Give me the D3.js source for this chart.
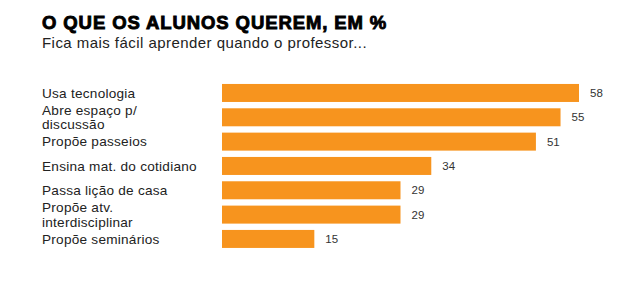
<!DOCTYPE html>
<html>
<head>
<meta charset="utf-8">
<script src="https://cdn.jsdelivr.net/npm/d3@7"></script>
<style>
body { margin: 0; background: #fff; }
text { font-family: "Liberation Sans", Arial, sans-serif; }
</style>
</head>
<body>
<svg id="chart" width="625" height="285"></svg>
<script>
const titleText = "O QUE OS ALUNOS QUEREM, EM %";
const subtitleText = "Fica mais fácil aprender quando o professor...";
const categories = [
  ["Usa tecnologia"],
  ["Abre espaço p/", "discussão"],
  ["Propõe passeios"],
  ["Ensina mat. do cotidiano"],
  ["Passa lição de casa"],
  ["Propõe atv.", "interdisciplinar"],
  ["Propõe seminários"]
];
const values = [58, 55, 51, 34, 29, 29, 15];

const svg = d3.select("#chart");
svg.append("rect").attr("width", 625).attr("height", 285).attr("fill", "#fff");

svg.append("text").attr("x", 42).attr("y", 29)
  .attr("font-size", 18.5).attr("font-weight", "bold").attr("fill", "#000")
  .attr("stroke", "#000").attr("stroke-width", 0.9)
  .attr("letter-spacing", 0.9)
  .text(titleText);
svg.append("text").attr("x", 42).attr("y", 48)
  .attr("font-size", 15).attr("fill", "#222")
  .attr("letter-spacing", 0.45)
  .text(subtitleText);

const idx = d3.range(values.length);
const x = d3.scaleLinear().domain([0, 58]).range([222, 579]);
const y = d3.scaleBand().domain(idx).range([80.8, 251.1]).paddingInner(0.26).paddingOuter(0.13);

svg.selectAll("rect.bar").data(idx).enter().append("rect")
  .attr("class", "bar")
  .attr("x", x(0))
  .attr("y", i => y(i))
  .attr("width", i => x(values[i]) - x(0))
  .attr("height", y.bandwidth())
  .attr("fill", "#F7941E");

svg.selectAll("text.val").data(idx).enter().append("text")
  .attr("class", "val")
  .attr("x", i => x(values[i]) + 11)
  .attr("y", i => y(i) + y.bandwidth() / 2 + 4)
  .attr("font-size", 11.5).attr("fill", "#333")
  .text(i => values[i]);

const lab = svg.selectAll("text.lab").data(idx).enter().append("text")
  .attr("class", "lab")
  .attr("x", 42)
  .attr("font-size", 13.6).attr("fill", "#222")
  .attr("letter-spacing", 0.25);
lab.each(function(i) {
  const lines = categories[i];
  const cy = y(i) + y.bandwidth() / 2;
  const lh = 14.5;
  d3.select(this).selectAll("tspan").data(lines).enter().append("tspan")
    .attr("x", 42)
    .attr("y", (d, k) => cy + 4.8 + (k - (lines.length - 1) / 2) * lh)
    .text(d => d);
});
</script>
</body>
</html>
